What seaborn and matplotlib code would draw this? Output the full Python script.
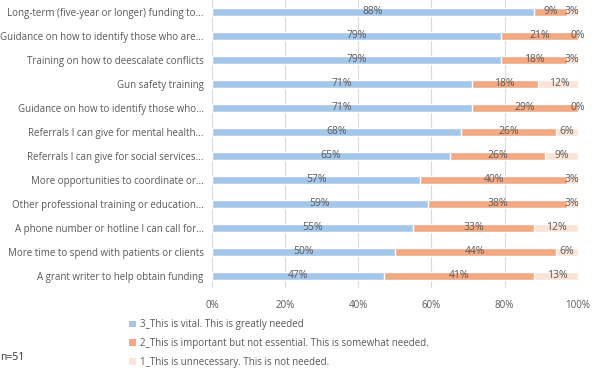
import numpy as np
import pandas as pd
import matplotlib
matplotlib.use("Agg")
import matplotlib.pyplot as plt
import seaborn as sns
from matplotlib.patches import Patch

# Chart data
items = [
    "Long-term (five-year or longer) funding to...",
    "Guidance on how to identify those who are...",
    "Training on how to deescalate conflicts",
    "Gun safety training",
    "Guidance on how to identify those who...",
    "Referrals I can give for mental health...",
    "Referrals I can give for social services...",
    "More opportunities to coordinate or...",
    "Other professional training or education...",
    "A phone number or hotline I can call for...",
    "More time to spend with patients or clients",
    "A grant writer to help obtain funding",
]
vital = [88, 79, 79, 71, 71, 68, 65, 57, 59, 55, 50, 47]
important = [9, 21, 18, 18, 29, 26, 26, 40, 38, 33, 44, 41]
unnecessary = [3, 0, 3, 12, 0, 6, 9, 3, 3, 12, 6, 13]
series_names = [
    "3_This is vital. This is greatly needed",
    "2_This is important but not essential. This is somewhat needed.",
    "1_This is unnecessary. This is not needed.",
]

colors = ["#a3c6e9", "#f1a983", "#fbe3d6"]
text_color = "#595959"

df = pd.DataFrame({"item": items, "vital": vital,
                   "important": important, "unnecessary": unnecessary})
df["c1"] = df["vital"]
df["c2"] = df["vital"] + df["important"]
df["c3"] = df["c2"] + df["unnecessary"]

sns.set_style("white")
plt.rcParams["font.family"] = ["Open Sans", "DejaVu Sans"]

fig = plt.figure(figsize=(5.92, 3.70), dpi=100)
ax = fig.add_axes([0.358, 0.222, 0.618, 0.778])

# stacked bars drawn as overlapping cumulative layers
for col, c in zip(["c3", "c2", "c1"], colors[::-1]):
    sns.barplot(data=df, x=col, y="item", color=c, width=0.33,
                saturation=1, ax=ax, zorder=3)

# segment labels
for i, row in df.iterrows():
    segs = [(0, row["vital"]), (row["c1"], row["important"]),
            (row["c2"], row["unnecessary"])]
    for start, val in segs:
        ax.text(start + val / 2, i, f"{val}%", ha="center", va="center",
                fontsize=7.5, color=text_color, zorder=4)

ax.set_xlim(0, 100)
ax.set_ylim(len(items) - 0.5, -0.5)
ax.set_xticks(np.arange(0, 101, 20))
ax.set_xticklabels([f"{t}%" for t in range(0, 101, 20)])
ax.xaxis.grid(True, color="#d9d9d9", linewidth=0.8, zorder=0)
ax.set_xlabel("")
ax.set_ylabel("")
ax.tick_params(axis="both", length=0, labelsize=7, colors=text_color, pad=6)
ax.tick_params(axis="x", pad=9)
for s in ax.spines.values():
    s.set_visible(False)

handles = [Patch(facecolor=c, edgecolor="none") for c in colors]
fig.legend(handles, series_names, loc="upper left", bbox_to_anchor=(0.218, 0.137),
           frameon=False, fontsize=7, labelcolor=text_color, handlelength=0.7,
           handleheight=0.7, handletextpad=0.4, labelspacing=0.82,
           borderaxespad=0, borderpad=0)

fig.text(0.0, 0.035, "n=51", fontsize=7.5, color="#333333", va="center")

fig.savefig("out.png", dpi=100)
